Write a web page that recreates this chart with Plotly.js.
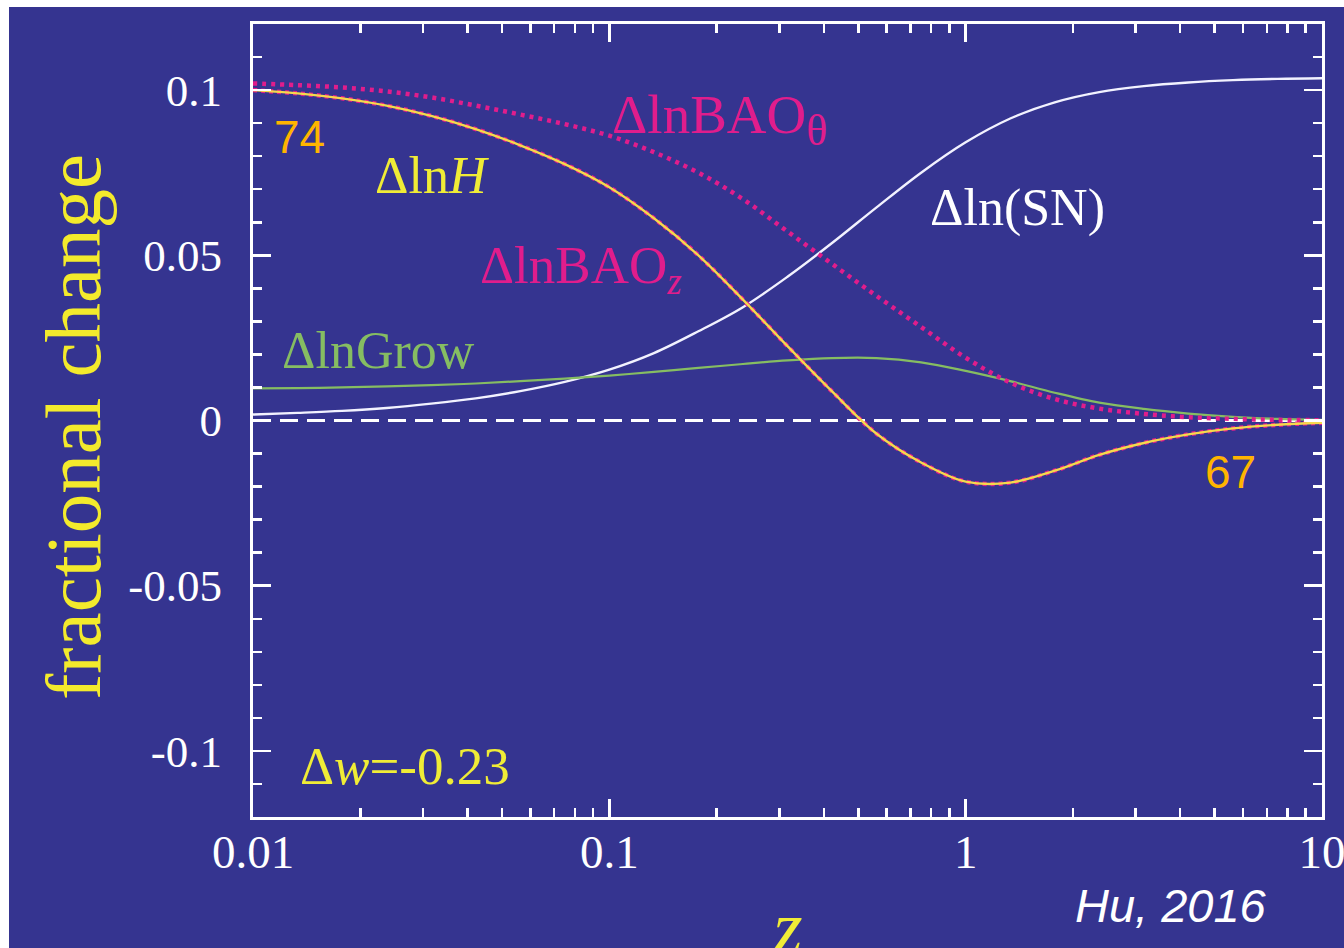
<!DOCTYPE html>
<html>
<head>
<meta charset="utf-8">
<script src="https://cdn.plot.ly/plotly-3.0.1.min.js"></script>
<style>
html,body{margin:0;padding:0;background:#ffffff;width:1344px;height:948px;overflow:hidden;}
#chart{position:absolute;left:9px;top:7px;width:1335px;height:941px;}
</style>
</head>
<body>
<div id="chart"></div>
<script>
// redshift grid (log axis, 1/8 decade steps)
const zVals = [0.01, 0.01334, 0.01778, 0.02371, 0.03162, 0.04217, 0.05623, 0.07499, 0.1, 0.1334, 0.1778, 0.2371, 0.3162, 0.4217, 0.5623, 0.7499, 1.0, 1.334, 1.778, 2.371, 3.162, 4.217, 5.623, 7.499, 10];
// fractional changes
const dlnH     = [0.1000, 0.0990, 0.0975, 0.0953, 0.0922, 0.0882, 0.0833, 0.0776, 0.0706, 0.0612, 0.0500, 0.0366, 0.0225, 0.0088, -0.0040, -0.0127, -0.0185, -0.0188, -0.0152, -0.0104, -0.0068, -0.0042, -0.0024, -0.0013, -0.0007];
const dlnBAOz  = [0.1000, 0.0990, 0.0975, 0.0953, 0.0922, 0.0882, 0.0833, 0.0776, 0.0706, 0.0612, 0.0500, 0.0366, 0.0225, 0.0088, -0.0040, -0.0127, -0.0185, -0.0188, -0.0152, -0.0104, -0.0068, -0.0042, -0.0024, -0.0013, -0.0007];
const dlnBAOth = [0.1020, 0.1015, 0.1008, 0.0996, 0.0978, 0.0953, 0.0926, 0.0897, 0.0862, 0.0812, 0.0750, 0.0670, 0.0572, 0.0474, 0.0377, 0.0283, 0.0190, 0.0115, 0.0065, 0.0036, 0.0020, 0.0010, 0.0005, 0.0002, 0.0001];
const dlnSN    = [0.0018, 0.0023, 0.0029, 0.0038, 0.0051, 0.0067, 0.0089, 0.0117, 0.0154, 0.0204, 0.0270, 0.0343, 0.0435, 0.0537, 0.0645, 0.0750, 0.0842, 0.0914, 0.0963, 0.0994, 0.1012, 0.1023, 0.1030, 0.1034, 0.1036];
const dlnGrow  = [0.0097, 0.0098, 0.0100, 0.0103, 0.0107, 0.0112, 0.0119, 0.0127, 0.0136, 0.0147, 0.0159, 0.0171, 0.0182, 0.0189, 0.0189, 0.0176, 0.0150, 0.0119, 0.0084, 0.0054, 0.0035, 0.0021, 0.0011, 0.0005, 0.0002];

const xTickVals = [0.01, 0.1, 1, 10];
const xTickText = ['0.01', '0.1', '1', '10'];
const xMinorVals = [0.02,0.03,0.04,0.05,0.06,0.07,0.08,0.09,0.2,0.3,0.4,0.5,0.6,0.7,0.8,0.9,2,3,4,5,6,7,8,9];
const yTickVals = [-0.1, -0.05, 0, 0.05, 0.1];
const yTickText = ['-0.1', '-0.05', '0', '0.05', '0.1'];
const yMinorVals = [-0.11,-0.09,-0.08,-0.07,-0.06,-0.04,-0.03,-0.02,-0.01,0.01,0.02,0.03,0.04,0.06,0.07,0.08,0.09,0.11];

const BG = '#353490';
const YEL = '#f6d84c';
const MAG = '#e01d8c';
const GRN = '#86bd62';
const WHT = '#f2f2ff';

const traces = [
  {x: zVals, y: dlnSN, mode: 'lines', line: {color: WHT, width: 2.4, shape: 'spline'}, hoverinfo: 'skip'},
  {x: zVals, y: dlnGrow, mode: 'lines', line: {color: GRN, width: 2.2, shape: 'spline'}, hoverinfo: 'skip'},
  {x: zVals, y: dlnBAOth, mode: 'lines', line: {color: MAG, width: 4.5, dash: '4px,5px', shape: 'spline'}, hoverinfo: 'skip'},
  {x: zVals, y: dlnBAOz, mode: 'lines', line: {color: MAG, width: 4.5, dash: '4px,4px', shape: 'spline'}, hoverinfo: 'skip'},
  {x: zVals, y: dlnH, mode: 'lines', line: {color: YEL, width: 2.4, shape: 'spline'}, hoverinfo: 'skip'}
];

const serif = 'Liberation Serif, Times New Roman, serif';
const sans = 'Liberation Sans, Arial, sans-serif';
function px2x(p){ return (p - 253) / 1069; }
function py2y(p){ return (817 - p) / 793; }

function ann(text, px, py, color, size, family, extra){
  return Object.assign({
    text: text, xref: 'paper', yref: 'paper', x: px2x(px), y: py2y(py),
    xanchor: 'left', yanchor: 'middle', showarrow: false,
    font: {family: family || serif, size: size || 52, color: color}
  }, extra || {});
}

const annotations = [
  ann('74', 272, 137, '#ffb400', 46, sans),
  ann('67', 1203, 472, '#ffb400', 46, sans),
  ann('Δln<i>H</i>', 373, 175, '#f0ec36', 52),
  ann('ΔlnBAO<sub><span style="font-size:44px">θ</span></sub>', 610, 119, MAG, 55),
  ann('Δln(SN)', 928, 208, '#ffffff', 52),
  ann('ΔlnBAO<sub><i>z</i></sub>', 478, 269, MAG, 53),
  ann('ΔlnGrow', 280, 350, GRN, 52),
  ann('Δ<i>w</i>=-0.23', 298, 766, '#f0ec36', 53),
  ann('<i>Hu, 2016</i>', 1073, 905, '#ffffff', 47, sans),
  {text: '<i>z</i>', xref: 'paper', yref: 'paper', x: 0.5, y: py2y(927), xanchor: 'center', yanchor: 'middle',
   showarrow: false, font: {family: serif, size: 76, color: '#f0ec36'}},
  {text: 'fractional change', xref: 'paper', yref: 'paper', x: px2x(73), y: py2y(427), xanchor: 'center', yanchor: 'middle',
   textangle: -90, showarrow: false, font: {family: serif, size: 79, color: '#f3ea2c'}}
];

const layout = {
  width: 1335, height: 941,
  margin: {l: 244, r: 22, t: 17, b: 131, pad: 0},
  paper_bgcolor: BG, plot_bgcolor: BG,
  showlegend: false,
  xaxis: {
    type: 'log', range: [-2, 1],
    tickmode: 'array', tickvals: xTickVals, ticktext: xTickText,
    ticks: 'inside', ticklen: 18, tickwidth: 2.5, tickcolor: '#ffffff',
    minor: {tickmode: 'array', tickvals: xMinorVals, ticks: 'inside', ticklen: 9, tickwidth: 2.5, tickcolor: '#ffffff', showgrid: false},
    showline: true, linecolor: '#ffffff', linewidth: 3, mirror: 'ticks',
    showgrid: false, zeroline: false,
    tickfont: {family: serif, size: 47, color: '#ffffff'},
    ticklabelstandoff: -8,
    ticklabeloverflow: 'allow'
  },
  yaxis: {
    range: [-0.12, 0.12],
    tickmode: 'array', tickvals: yTickVals, ticktext: yTickText,
    ticks: 'inside', ticklen: 18, tickwidth: 2.5, tickcolor: '#ffffff',
    minor: {tickmode: 'array', tickvals: yMinorVals, ticks: 'inside', ticklen: 9, tickwidth: 2.5, tickcolor: '#ffffff', showgrid: false},
    showline: true, linecolor: '#ffffff', linewidth: 3, mirror: 'ticks',
    showgrid: false, zeroline: false,
    tickfont: {family: serif, size: 45, color: '#ffffff'},
    ticklabelstandoff: 19,
    ticklabeloverflow: 'allow'
  },
  shapes: [
    {type: 'line', xref: 'paper', yref: 'y', x0: 0, x1: 1, y0: 0, y1: 0, layer: 'below',
     line: {color: '#ffffff', width: 3, dash: '18px,9px'}}
  ],
  annotations: annotations
};

Plotly.newPlot('chart', traces, layout, {staticPlot: true, displayModeBar: false});
</script>
</body>
</html>
